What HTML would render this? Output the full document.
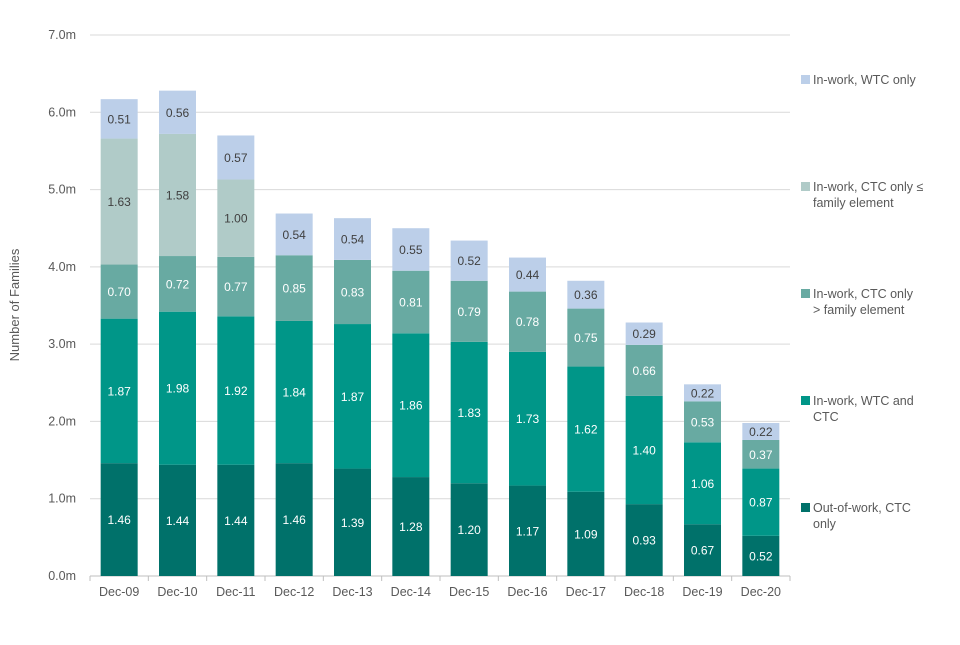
<!DOCTYPE html>
<html><head><meta charset="utf-8"><style>
body{margin:0;background:#fff;}
svg{font-family:"Liberation Sans",Arial,sans-serif;}
</style></head><body>
<svg id="chart" width="960" height="640">
<g id="grid"></g>
<g id="bars"></g>
<g id="yaxis"></g>
<g id="xaxis"></g>
<text transform="translate(19,305) rotate(-90)" text-anchor="middle" font-size="13" fill="#595959">Number of Families</text>
<g id="legend"></g>
</svg>
<script>
const categories=["Dec-09","Dec-10","Dec-11","Dec-12","Dec-13","Dec-14","Dec-15","Dec-16","Dec-17","Dec-18","Dec-19","Dec-20"];
const outOfWork=[1.46,1.44,1.44,1.46,1.39,1.28,1.20,1.17,1.09,0.93,0.67,0.52];
const wtcAndCtc=[1.87,1.98,1.92,1.84,1.87,1.86,1.83,1.73,1.62,1.40,1.06,0.87];
const ctcAboveFamily=[0.70,0.72,0.77,0.85,0.83,0.81,0.79,0.78,0.75,0.66,0.53,0.37];
const ctcBelowFamily=[1.63,1.58,1.00,0,0,0,0,0,0,0,0,0];
const wtcOnly=[0.51,0.56,0.57,0.54,0.54,0.55,0.52,0.44,0.36,0.29,0.22,0.22];
const yTicks=[0,1,2,3,4,5,6,7];

const NS="http://www.w3.org/2000/svg";
const x0=90,x1=790,yBase=576,yTop=35,yMax=7;
const band=(x1-x0)/categories.length,barW=37;
const y=v=>yBase-(v/yMax)*(yBase-yTop);
const xc=i=>x0+band*(i+0.5);
function mk(t,a,p){const e=document.createElementNS(NS,t);for(const k in a)e.setAttribute(k,a[k]);p.appendChild(e);return e;}
const grid=document.getElementById('grid'),yax=document.getElementById('yaxis'),xax=document.getElementById('xaxis'),bars=document.getElementById('bars'),leg=document.getElementById('legend');
yTicks.forEach(t=>{
 const l=mk('line',{x1:x0,x2:x1,y1:y(t),y2:y(t),stroke:t===0?'#bfbfbf':'#d9d9d9','stroke-width':1},grid);
 
 
 const tx=mk('text',{x:76,y:y(t)+4,'text-anchor':'end','font-size':12.5,fill:'#595959'},yax);
 tx.textContent=t.toFixed(1)+'m';
 
 
});
for(let i=0;i<=categories.length;i++){
 const tk=mk('line',{x1:x0+band*i,x2:x0+band*i,y1:yBase,y2:yBase+5,stroke:'#bfbfbf'},xax);
 
 
}
categories.forEach((c,i)=>{
 const tx=mk('text',{x:xc(i),y:yBase+20,'text-anchor':'middle','font-size':12.5,fill:'#595959'},xax);
 tx.textContent=c;
 
 
});
const series=[outOfWork,wtcAndCtc,ctcAboveFamily,ctcBelowFamily,wtcOnly];
const colors=['#00716a','#009688','#68aaa2','#b0cbc8','#bccfe9'];
const labelColors=['#fff','#fff','#fff','#404040','#404040'];
categories.forEach((c,i)=>{
 let cum=0;
 series.forEach((s,k)=>{
  const v=s[i]; if(!v)return;
  const r=mk('rect',{x:xc(i)-barW/2,y:y(cum+v),width:barW,height:y(cum)-y(cum+v),fill:colors[k]},bars);
  
  
  const t=mk('text',{x:xc(i),y:(y(cum)+y(cum+v))/2+4.5,'text-anchor':'middle','font-size':12,fill:labelColors[k]},bars);
  t.textContent=v.toFixed(2);
  
  
  cum+=v;
 });
});
const legItems=[
 {k:4,y:80,lines:["In-work, WTC only"]},
 {k:3,y:187,lines:["In-work, CTC only ≤","family element"]},
 {k:2,y:294,lines:["In-work, CTC only","> family element"]},
 {k:1,y:401,lines:["In-work, WTC and","CTC"]},
 {k:0,y:508,lines:["Out-of-work, CTC","only"]}];
legItems.forEach(it=>{
 const r=mk('rect',{x:801,y:it.y-5,width:9,height:9,fill:colors[it.k]},leg);
 
 
 it.lines.forEach((ln,j)=>{
  const t=mk('text',{x:813,y:it.y+4+j*16,'font-size':12.5,fill:'#595959'},leg);
  t.textContent=ln;
  
  
 });
});
</script>
</body></html>
